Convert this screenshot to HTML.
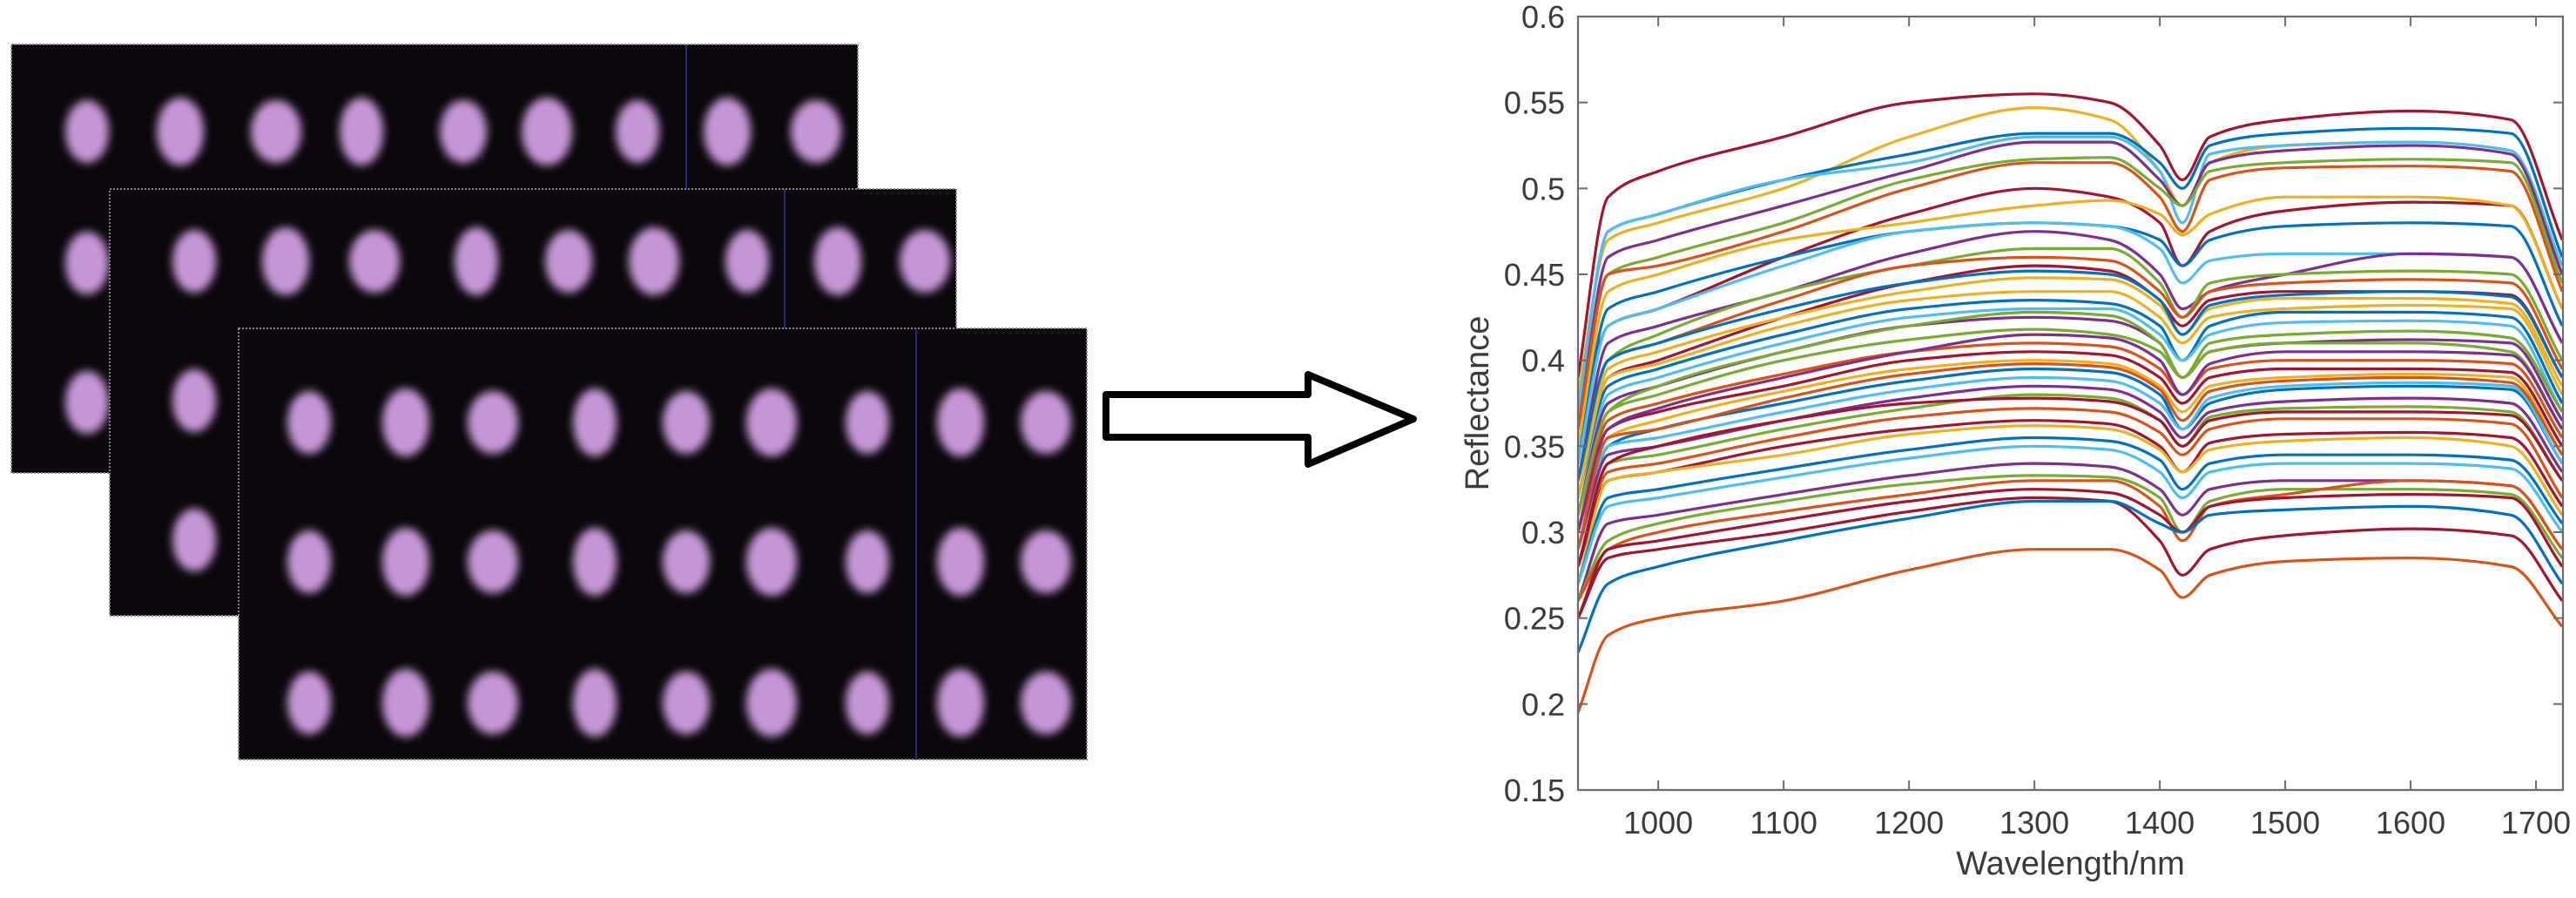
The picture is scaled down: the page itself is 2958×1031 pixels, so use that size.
<!DOCTYPE html>
<html><head><meta charset="utf-8">
<style>
html,body{margin:0;padding:0;background:#fff;}
body{width:2958px;height:1031px;overflow:hidden;position:relative;font-family:"Liberation Sans",Arial,sans-serif;}
svg{position:absolute;left:0;top:0;}
</style></head>
<body>
<svg id="fig" width="2958" height="1031" viewBox="0 0 2958 1031">
  <defs>
    <filter id="blur" x="-50%" y="-50%" width="200%" height="200%"><feGaussianBlur stdDeviation="5"/></filter>
    <clipPath id="plotclip"><rect x="1812" y="19" width="1131" height="888"/></clipPath>
  </defs>
  <g id="photos"></g>
  <g>
    <path d="M1270,453 L1502,453 L1502,430 L1623,481 L1502,533 L1502,502 L1270,502 Z" fill="#fff" stroke="#000" stroke-width="8" stroke-linejoin="round"/>
  </g>
  <g id="chart"></g>
</svg>
<script>
const wavelengths = [936, 960, 1000, 1100, 1200, 1300, 1360, 1400, 1418, 1440, 1500, 1600, 1680, 1721];
const s01 = [0.39,0.495,0.51,0.53,0.55,0.555,0.55,0.525,0.505,0.53,0.54,0.545,0.54,0.47];
const s02 = [0.38,0.47,0.48,0.50,0.53,0.547,0.54,0.51,0.49,0.515,0.525,0.527,0.522,0.45];
const s03 = [0.37,0.475,0.485,0.505,0.52,0.532,0.532,0.515,0.50,0.525,0.532,0.535,0.532,0.46];
const s04 = [0.37,0.475,0.485,0.505,0.515,0.53,0.53,0.51,0.48,0.52,0.525,0.527,0.522,0.455];
const s05 = [0.36,0.46,0.47,0.49,0.51,0.527,0.527,0.505,0.49,0.515,0.522,0.525,0.52,0.45];
const s06 = [0.36,0.45,0.46,0.48,0.505,0.517,0.518,0.50,0.49,0.51,0.515,0.517,0.515,0.445];
const s07 = [0.36,0.45,0.455,0.475,0.50,0.515,0.515,0.495,0.475,0.505,0.512,0.513,0.51,0.44];
const s08 = [0.35,0.42,0.43,0.46,0.485,0.50,0.495,0.48,0.455,0.475,0.487,0.492,0.49,0.43];
const s09 = [0.35,0.44,0.45,0.47,0.48,0.49,0.493,0.485,0.473,0.485,0.495,0.495,0.49,0.43];
const s10 = [0.34,0.43,0.44,0.46,0.475,0.48,0.478,0.47,0.455,0.47,0.478,0.48,0.478,0.42];
const s11 = [0.34,0.42,0.43,0.455,0.475,0.48,0.478,0.465,0.445,0.458,0.462,0.462,0.46,0.41];
const s12 = [0.33,0.41,0.42,0.44,0.462,0.475,0.47,0.45,0.43,0.44,0.45,0.462,0.46,0.41];
const s13 = [0.33,0.40,0.415,0.44,0.455,0.465,0.465,0.445,0.425,0.445,0.45,0.452,0.45,0.40];
const s14 = [0.33,0.40,0.41,0.435,0.455,0.46,0.458,0.44,0.425,0.44,0.445,0.447,0.445,0.395];
const s15 = [0.32,0.39,0.40,0.425,0.445,0.455,0.452,0.435,0.42,0.435,0.44,0.44,0.438,0.39];
const s16 = [0.32,0.395,0.405,0.425,0.44,0.448,0.447,0.432,0.415,0.43,0.436,0.436,0.433,0.385];
const s17 = [0.32,0.385,0.395,0.415,0.43,0.435,0.433,0.42,0.40,0.42,0.428,0.428,0.425,0.375];
const s18 = [0.31,0.38,0.39,0.41,0.425,0.43,0.43,0.415,0.40,0.415,0.422,0.423,0.42,0.37];
const s19 = [0.31,0.375,0.385,0.405,0.42,0.425,0.423,0.41,0.39,0.405,0.41,0.412,0.41,0.365];
const s20 = [0.30,0.37,0.38,0.40,0.412,0.418,0.415,0.405,0.39,0.405,0.41,0.41,0.405,0.36];
const s21 = [0.30,0.365,0.375,0.392,0.405,0.41,0.408,0.395,0.38,0.395,0.40,0.40,0.398,0.355];
const s22 = [0.30,0.36,0.37,0.385,0.40,0.405,0.403,0.39,0.375,0.39,0.395,0.395,0.393,0.35];
const s23 = [0.30,0.355,0.365,0.382,0.395,0.40,0.398,0.385,0.37,0.385,0.39,0.392,0.39,0.345];
const s24 = [0.29,0.35,0.36,0.375,0.388,0.395,0.393,0.38,0.36,0.375,0.383,0.385,0.383,0.34];
const s25 = [0.29,0.35,0.355,0.37,0.383,0.39,0.388,0.375,0.36,0.378,0.385,0.387,0.385,0.34];
const s26 = [0.29,0.345,0.35,0.365,0.378,0.385,0.383,0.37,0.355,0.37,0.376,0.378,0.375,0.335];
const s27 = [0.28,0.34,0.345,0.36,0.372,0.38,0.378,0.365,0.35,0.367,0.372,0.373,0.37,0.33];
const s28 = [0.28,0.335,0.34,0.355,0.367,0.372,0.37,0.358,0.345,0.36,0.366,0.366,0.363,0.32];
const s29 = [0.28,0.33,0.335,0.35,0.36,0.365,0.363,0.35,0.335,0.352,0.357,0.358,0.355,0.315];
const s30 = [0.27,0.33,0.335,0.345,0.357,0.362,0.36,0.348,0.335,0.348,0.353,0.355,0.35,0.31];
const s31 = [0.27,0.32,0.325,0.337,0.348,0.355,0.353,0.342,0.325,0.34,0.345,0.345,0.342,0.305];
const s32 = [0.27,0.315,0.32,0.332,0.343,0.35,0.348,0.335,0.32,0.335,0.34,0.34,0.337,0.30];
const s33 = [0.26,0.305,0.31,0.322,0.333,0.34,0.338,0.325,0.31,0.325,0.33,0.33,0.327,0.29];
const s34 = [0.26,0.295,0.305,0.318,0.328,0.333,0.332,0.32,0.30,0.318,0.325,0.325,0.322,0.285];
const s35 = [0.26,0.29,0.30,0.312,0.322,0.33,0.33,0.315,0.295,0.315,0.322,0.33,0.327,0.29];
const s36 = [0.25,0.29,0.295,0.307,0.318,0.325,0.323,0.31,0.30,0.315,0.32,0.322,0.32,0.28];
const s37 = [0.25,0.285,0.29,0.30,0.312,0.32,0.318,0.295,0.275,0.29,0.298,0.302,0.298,0.26];
const s38 = [0.23,0.27,0.28,0.295,0.308,0.318,0.318,0.305,0.30,0.31,0.313,0.315,0.31,0.27];
const s39 = [0.195,0.24,0.25,0.26,0.278,0.29,0.29,0.278,0.262,0.275,0.283,0.285,0.28,0.245];
const s40 = [0.30,0.36,0.372,0.39,0.405,0.415,0.413,0.40,0.38,0.398,0.405,0.405,0.403,0.36];
const s41 = [0.31,0.37,0.385,0.405,0.42,0.428,0.426,0.41,0.39,0.41,0.415,0.417,0.413,0.37];
const s42 = [0.29,0.355,0.36,0.378,0.392,0.398,0.396,0.383,0.365,0.382,0.388,0.39,0.387,0.345];
const s43 = [0.28,0.34,0.35,0.365,0.375,0.378,0.376,0.365,0.35,0.365,0.37,0.37,0.368,0.33];
const s44 = [0.32,0.39,0.398,0.42,0.435,0.44,0.44,0.425,0.41,0.425,0.43,0.432,0.43,0.38];
const s45 = [0.33,0.40,0.41,0.43,0.445,0.452,0.45,0.435,0.415,0.432,0.438,0.44,0.437,0.39];
const seriesList = [s01,s02,s03,s04,s05,s06,s07,s08,s09,s10,s11,s12,s13,s14,s15,s16,s17,s18,s19,s20,s21,s22,s23,s24,s25,s26,s27,s28,s29,s30,s31,s32,s33,s34,s35,s36,s37,s38,s39,s40,s41,s42,s43,s44,s45];
const xTicks = [1000, 1100, 1200, 1300, 1400, 1500, 1600, 1700];
const yTicks = [0.15, 0.2, 0.25, 0.3, 0.35, 0.4, 0.45, 0.5, 0.55, 0.6];
const yTickLabels = ["0.15","0.2","0.25","0.3","0.35","0.4","0.45","0.5","0.55","0.6"];

const NS = "http://www.w3.org/2000/svg";
const X0 = 1812, X1 = 2943, Y0 = 907, Y1 = 19;
const XMIN = 936, XMAX = 1721.5, YMIN = 0.15, YMAX = 0.6;
function xs(w){ return X0 + (w - XMIN) / (XMAX - XMIN) * (X1 - X0); }
function ys(r){ return Y0 - (r - YMIN) / (YMAX - YMIN) * (Y0 - Y1); }
const palette = ["#A2142F","#EDB120","#0072BD","#4DBEEE","#7E2F8E","#77AC30","#D95319"];

const chart = document.getElementById('chart');
const lines = document.createElementNS(NS,'g');
lines.setAttribute('clip-path','url(#plotclip)');


chart.appendChild(lines);

// monotone cubic (Fritsch-Carlson) to avoid overshoot
function pathFor(vals){
  const xsA = wavelengths.map(xs), ysA = vals.map(ys), n = xsA.length;
  const dx = [], m = [];
  for(let i=0;i<n-1;i++){ dx.push(xsA[i+1]-xsA[i]); m.push((ysA[i+1]-ysA[i])/dx[i]); }
  const t = new Array(n);
  t[0]=m[0]; t[n-1]=m[n-2];
  for(let i=1;i<n-1;i++){
    if(m[i-1]*m[i] <= 0) t[i]=0;
    else { const w1=2*dx[i]+dx[i-1], w2=dx[i]+2*dx[i-1]; t[i]=(w1+w2)/(w1/m[i-1]+w2/m[i]); }
  }
  let d = "M"+xsA[0].toFixed(1)+","+ysA[0].toFixed(1);
  for(let i=0;i<n-1;i++){
    const h = dx[i];
    d += " C"+(xsA[i]+h/3).toFixed(1)+","+(ysA[i]+t[i]*h/3).toFixed(1)+" "+(xsA[i+1]-h/3).toFixed(1)+","+(ysA[i+1]-t[i+1]*h/3).toFixed(1)+" "+xsA[i+1].toFixed(1)+","+ysA[i+1].toFixed(1);
  }
  return d;
}
seriesList.forEach((vals, i)=>{
  const p = document.createElementNS(NS,'path');
  p.setAttribute('d', pathFor(vals));
  p.setAttribute('fill','none');
  let c = palette[i % palette.length];
  if (i === 38) c = "#D95319";
  if (i === 36) c = "#A2142F";
  p.setAttribute('stroke', c);
  p.setAttribute('stroke-width','3.2');
  p.setAttribute('stroke-linejoin','round');
  
  
  lines.appendChild(p);
});

const box = document.createElementNS(NS,'rect');
box.setAttribute('x',X0); box.setAttribute('y',Y1);
box.setAttribute('width',X1-X0); box.setAttribute('height',Y0-Y1);
box.setAttribute('fill','none'); box.setAttribute('stroke','#6b6b6b'); box.setAttribute('stroke-width','2.2');


chart.appendChild(box);

xTicks.forEach(t=>{
  const x = xs(t);
  [[Y0, Y0-11],[Y1, Y1+11]].forEach(([a,b])=>{
    const l = document.createElementNS(NS,'line');
    l.setAttribute('x1',x); l.setAttribute('x2',x); l.setAttribute('y1',a); l.setAttribute('y2',b);
    l.setAttribute('stroke','#6b6b6b'); l.setAttribute('stroke-width','2');
    
    
    chart.appendChild(l);
  });
  const tx = document.createElementNS(NS,'text');
  tx.setAttribute('x',x); tx.setAttribute('y',957);
  tx.setAttribute('text-anchor','middle'); tx.setAttribute('font-size','36');
  tx.setAttribute('fill','#3a3a3a'); tx.setAttribute('font-family','"Liberation Sans", Arial, sans-serif');
  tx.textContent = String(t);
  
  
  chart.appendChild(tx);
});
yTicks.forEach((t,i)=>{
  const y = ys(t);
  [[X0, X0+11],[X1, X1-11]].forEach(([a,b])=>{
    const l = document.createElementNS(NS,'line');
    l.setAttribute('x1',a); l.setAttribute('x2',b); l.setAttribute('y1',y); l.setAttribute('y2',y);
    l.setAttribute('stroke','#6b6b6b'); l.setAttribute('stroke-width','2');
    
    
    chart.appendChild(l);
  });
  const tx = document.createElementNS(NS,'text');
  tx.setAttribute('x',1797); tx.setAttribute('y',y+13);
  tx.setAttribute('text-anchor','end'); tx.setAttribute('font-size','36');
  tx.setAttribute('fill','#3a3a3a'); tx.setAttribute('font-family','"Liberation Sans", Arial, sans-serif');
  tx.textContent = yTickLabels[i];
  
  
  chart.appendChild(tx);
});
const xl = document.createElementNS(NS,'text');
xl.setAttribute('x',(X0+X1)/2); xl.setAttribute('y',1004);
xl.setAttribute('text-anchor','middle'); xl.setAttribute('font-size','38');
xl.setAttribute('fill','#3a3a3a'); xl.setAttribute('font-family','"Liberation Sans", Arial, sans-serif');
xl.textContent = 'Wavelength/nm';


chart.appendChild(xl);
const yl = document.createElementNS(NS,'text');
yl.setAttribute('transform','translate(1709,463) rotate(-90)');
yl.setAttribute('text-anchor','middle'); yl.setAttribute('font-size','38');
yl.setAttribute('fill','#3a3a3a'); yl.setAttribute('font-family','"Liberation Sans", Arial, sans-serif');
yl.textContent = 'Reflectance';


chart.appendChild(yl);

const photos = document.getElementById('photos');
const panels = [
  {x:13, y:51, w:972, h:492, cols:[100,207,317,415,532,628,732,835,937], rows:[151,302,462], vline:788},
  {x:126, y:217, w:972, h:490, cols:[223,328,430,547,653,751,858,962,1062], rows:[300,460,620], vline:901},
  {x:274, y:377, w:974, h:495, cols:[355,466,566,683,788,886,996,1103,1201], rows:[485,645,807], vline:1052}
];
panels.forEach((P)=>{
  const g = document.createElementNS(NS,'g');
  
  
  const r = document.createElementNS(NS,'rect');
  r.setAttribute('x',P.x); r.setAttribute('y',P.y); r.setAttribute('width',P.w); r.setAttribute('height',P.h);
  r.setAttribute('fill','#0b070c'); r.setAttribute('stroke','#888'); r.setAttribute('stroke-width','2'); r.setAttribute('stroke-dasharray','2 2');
  g.appendChild(r);
  const vl = document.createElementNS(NS,'line');
  vl.setAttribute('x1',P.vline); vl.setAttribute('x2',P.vline); vl.setAttribute('y1',P.y); vl.setAttribute('y2',P.y+P.h);
  vl.setAttribute('stroke','#2a2a7a'); vl.setAttribute('stroke-width','2');
  g.appendChild(vl);
  P.rows.forEach(ry=>{
    P.cols.forEach((cx,ci)=>{
      const e = document.createElementNS(NS,'ellipse');
      e.setAttribute('cx',cx); e.setAttribute('cy',ry);
      e.setAttribute('rx', 25 + (ci%3)*2); e.setAttribute('ry', 36 + (ci%2)*3);
      e.setAttribute('fill','#c596d6'); e.setAttribute('filter','url(#blur)');
      g.appendChild(e);
    });
  });
  photos.appendChild(g);
});
</script>
</body></html>
